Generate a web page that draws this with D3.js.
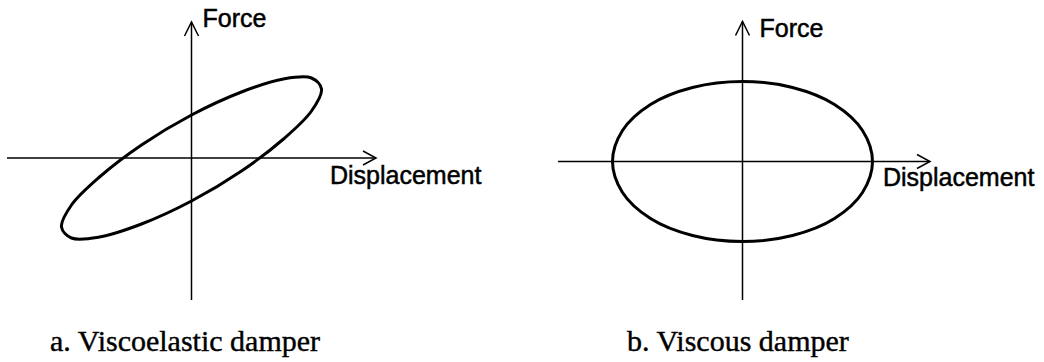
<!DOCTYPE html>
<html>
<head>
<meta charset="utf-8">
<script src="https://cdn.jsdelivr.net/npm/d3@7"></script>
<style>
  body { margin: 0; background: #fff; }
  .axis-line { stroke: #000; stroke-width: 1.5; fill: none; }
  .loop { stroke: #000; stroke-width: 3; fill: none; }
  .lbl { font-family: "Liberation Sans", Arial, sans-serif; font-size: 25px; fill: #000; stroke: #000; stroke-width: 0.5; }
  .caption { font-family: "Liberation Serif", "Times New Roman", serif; font-size: 30px; fill: #000; stroke: #000; stroke-width: 0.4; }
</style>
</head>
<body>
<svg id="chart" width="1044" height="362"></svg>
<script>
// hysteresis loops (displacement, force), same units on both axes
var veDisp  = [0, 0.50, 0.92, 1.20, 1.30, 1.20, 0.92, 0.50, 0, -0.50, -0.92, -1.20, -1.30, -1.20, -0.92, -0.50];
var veForce = [0.43, 0.66, 0.79, 0.80, 0.69, 0.47, 0.19, -0.13, -0.43, -0.66, -0.79, -0.80, -0.69, -0.47, -0.19, 0.13];

var vDisp  = [0, 0.50, 0.92, 1.20, 1.30, 1.20, 0.92, 0.50, 0, -0.50, -0.92, -1.20, -1.30, -1.20, -0.92, -0.50];
var vForce = [0.80, 0.74, 0.57, 0.31, 0, -0.31, -0.57, -0.74, -0.80, -0.74, -0.57, -0.31, 0, 0.31, 0.57, 0.74];

var axisTitles = ["Force", "Displacement"];
var captions = ["a. Viscoelastic damper", "b. Viscous damper"];

var svg = d3.select("#chart");

var panels = [
  {
    disp: veDisp, force: veForce, caption: captions[0],
    x: d3.scaleLinear().domain([-1.845, 1.845]).range([7, 376]),
    y: d3.scaleLinear().domain([-1.42, 1.36]).range([300, 22]),
    forceLbl: [11, 27], dispLbl: [330, 184], capPos: [50, 351]
  },
  {
    disp: vDisp, force: vForce, caption: captions[1],
    x: d3.scaleLinear().domain([-1.845, 1.875]).range([558, 930]),
    y: d3.scaleLinear().domain([-1.385, 1.40]).range([300, 21.5]),
    forceLbl: [17, 37], dispLbl: [883, 186], capPos: [627, 351]
  }
];

function drawPanel(p) {
  var g = svg.append("g");
  var x = p.x, y = p.y;
  var x0 = x(0), y0 = y(0);
  var xEnd = x.range()[1], yTop = y.range()[1];

  // axes
  g.append("line").attr("class", "axis-line")
      .attr("x1", x.range()[0]).attr("y1", y0)
      .attr("x2", xEnd).attr("y2", y0);
  g.append("line").attr("class", "axis-line")
      .attr("x1", x0).attr("y1", y.range()[0])
      .attr("x2", x0).attr("y2", yTop);

  // open arrow heads
  g.append("path").attr("class", "axis-line")
      .attr("d", "M" + (xEnd - 13) + "," + (y0 - 7) + "L" + xEnd + "," + y0 + "L" + (xEnd - 13) + "," + (y0 + 7));
  g.append("path").attr("class", "axis-line")
      .attr("d", "M" + (x0 - 7) + "," + (yTop + 14) + "L" + x0 + "," + yTop + "L" + (x0 + 7) + "," + (yTop + 14));

  var pts = p.disp.map(function(d, i) { return [d, p.force[i]]; });
  var line = d3.line()
      .x(function(d) { return x(d[0]); })
      .y(function(d) { return y(d[1]); })
      .curve(d3.curveCatmullRomClosed.alpha(0.5));

  g.append("path").attr("class", "loop").attr("d", line(pts));

  g.append("text").attr("class", "lbl")
      .attr("x", x0 + p.forceLbl[0]).attr("y", p.forceLbl[1])
      .text(axisTitles[0]);
  g.append("text").attr("class", "lbl")
      .attr("x", p.dispLbl[0]).attr("y", p.dispLbl[1])
      .text(axisTitles[1]);
  g.append("text").attr("class", "caption")
      .attr("x", p.capPos[0]).attr("y", p.capPos[1])
      .text(p.caption);
}

panels.forEach(drawPanel);
</script>
</body>
</html>
